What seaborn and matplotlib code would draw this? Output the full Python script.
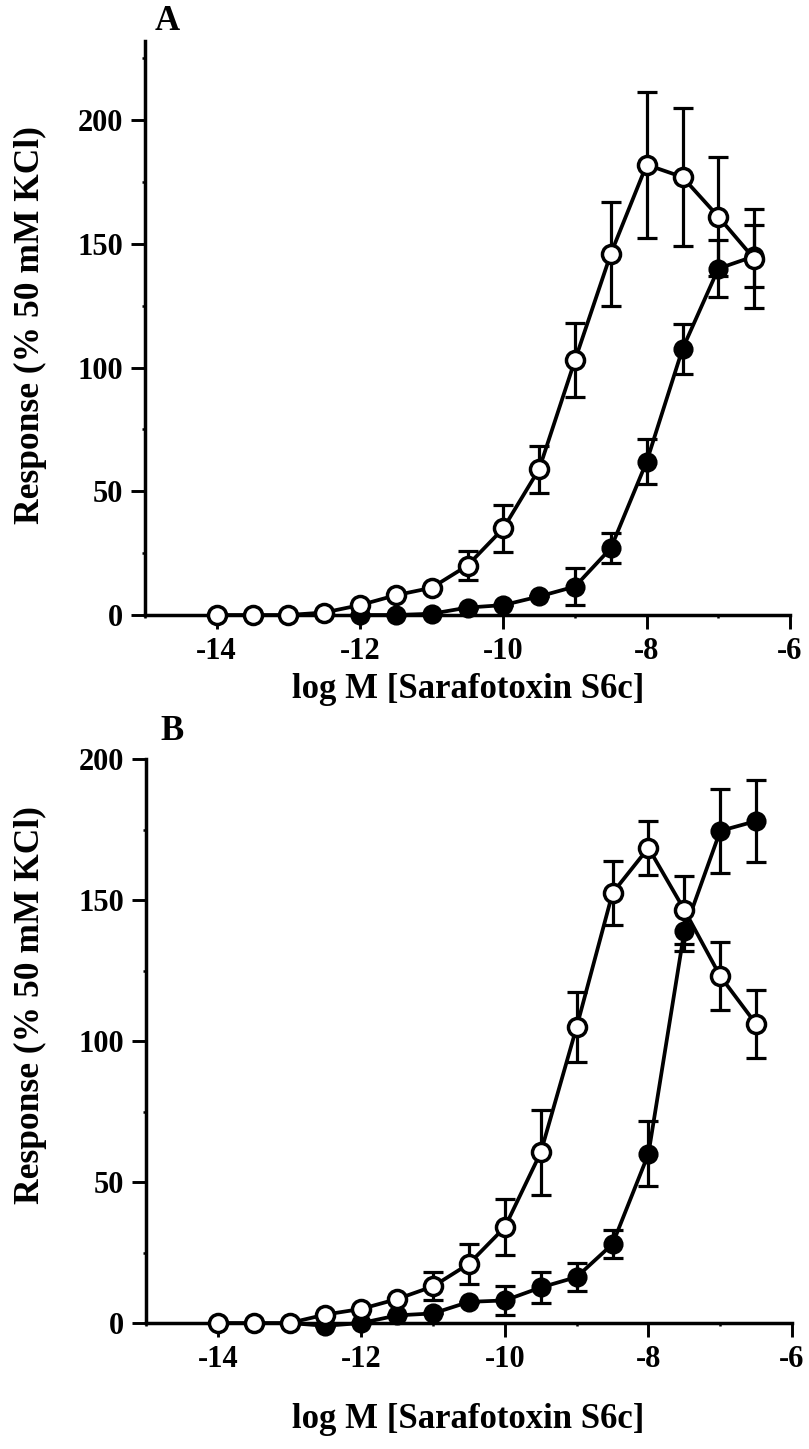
import matplotlib
matplotlib.use("Agg")
import matplotlib.pyplot as plt
import seaborn as sns
import numpy as np
import pandas as pd
from matplotlib.ticker import MultipleLocator, FixedLocator

# ---------------- data ----------------
log_conc = [-14, -13.5, -13, -12.5, -12, -11.5, -11, -10.5, -10,
            -9.5, -9, -8.5, -8, -7.5, -7, -6.5]

# Panel A
a_open = [0, 0, 0, 1, 4, 8, 11, 20, 35, 59, 103, 146, 182, 177, 161, 144]
a_open_err = [0, 0, 0, 0, 0, 0, 0, 6, 9.5, 9.5, 15, 21, 29.5, 28, 24, 20]
a_filled_conc = [-12, -11.5, -11, -10.5, -10, -9.5, -9, -8.5, -8, -7.5, -7, -6.5]
a_filled = [0, 0, 0.5, 3, 4, 7.5, 11.5, 27, 62, 107.5, 140, 145]
a_filled_err = [0, 0, 0, 0, 0, 0, 7.5, 6, 9, 10, 11.5, 12.5]

# Panel B
b_open = [0, 0, 0, 3, 5, 8.5, 13, 21, 34, 60.5, 105, 152.5, 168.5, 146.5, 123, 106]
b_open_err = [0, 0, 0, 0, 0, 0, 5, 7, 10, 15, 12.5, 11.5, 9.5, 12, 12, 12]
b_filled_conc = [-13, -12.5, -12, -11.5, -11, -10.5, -10, -9.5, -9, -8.5, -8, -7.5, -7, -6.5]
b_filled = [0, -1, 0, 2.7, 3.4, 7.5, 8, 12.6, 16.3, 28, 60, 139, 174.5, 178]
b_filled_err = [0, 0, 0, 0, 0, 0, 5, 5.5, 5, 5, 11.5, 7, 15, 14.5]

x_ticks = [-14, -12, -10, -8, -6]
x_ticklabels = ["-14", "-12", "-10", "-8", "-6"]
y_ticks = [0, 50, 100, 150, 200]
y_ticklabels = ["0", "50", "100", "150", "200"]

x_label = "log M [Sarafotoxin S6c]"
y_label = "Response (% 50 mM KCl)"
panel_letters = ["A", "B"]

# ---------------- style ----------------
sns.set_style("ticks")
plt.rcParams["font.family"] = ["Liberation Serif", "DejaVu Serif"]
plt.rcParams["font.weight"] = "bold"
plt.rcParams["axes.unicode_minus"] = False
plt.rcParams["text.color"] = "black"
plt.rcParams["axes.labelcolor"] = "black"
plt.rcParams["xtick.color"] = "black"
plt.rcParams["ytick.color"] = "black"

W, H = 809, 1449
fig = plt.figure(figsize=(W / 100, H / 100), dpi=100)
fig.patch.set_facecolor("white")


def px_axes(left, top, right, bottom):
    return fig.add_axes([left / W, 1 - bottom / H, (right - left) / W, (bottom - top) / H])


ax_a = px_axes(145, 41, 790, 615)
ax_b = px_axes(146, 759, 792, 1323)

panels = [
    (ax_a, a_open, a_open_err, a_filled_conc, a_filled, a_filled_err, 232),
    (ax_b, b_open, b_open_err, b_filled_conc, b_filled, b_filled_err, 200),
]

LW = 2.7
MS = 13
ELW = 2.3
for i, (ax, op, ope, fc, fl, fle, ymax) in enumerate(panels):
    ax.set_facecolor("white")
    # error bars
    ax.errorbar(fc, fl, yerr=fle, fmt="none", ecolor="black", elinewidth=ELW,
                capsize=7.5, capthick=ELW, clip_on=False, zorder=2)
    ax.errorbar(log_conc, op, yerr=ope, fmt="none", ecolor="black", elinewidth=ELW,
                capsize=7.5, capthick=ELW, clip_on=False, zorder=2)
    df_f = pd.DataFrame({"x": fc, "y": fl})
    df_o = pd.DataFrame({"x": log_conc, "y": op})
    sns.lineplot(data=df_f, x="x", y="y", ax=ax, estimator=None, sort=False,
                 color="black", linewidth=LW, marker="o", markersize=MS,
                 markerfacecolor="black", markeredgecolor="black",
                 markeredgewidth=1.5, clip_on=False, zorder=3)
    sns.lineplot(data=df_o, x="x", y="y", ax=ax, estimator=None, sort=False,
                 color="black", linewidth=LW, marker="o", markersize=MS,
                 markerfacecolor="white", markeredgecolor="black",
                 markeredgewidth=2.5, clip_on=False, zorder=4)

    ax.set_xlim(-15, -6)
    ax.set_ylim(0, ymax)
    ax.xaxis.set_major_locator(FixedLocator(x_ticks))
    ax.set_xticklabels(x_ticklabels)
    ax.yaxis.set_major_locator(FixedLocator(y_ticks))
    ax.set_yticklabels(y_ticklabels)
    ax.xaxis.set_minor_locator(MultipleLocator(1))
    ax.yaxis.set_minor_locator(MultipleLocator(25))
    ax.tick_params(which="major", direction="out", length=10, width=2.1,
                   labelsize=22, pad=6, color="black", labelcolor="black")
    ax.tick_params(which="minor", direction="out", length=2.5, width=1.8,
                   color="black")
    for lab in ax.get_xticklabels() + ax.get_yticklabels():
        lab.set_fontweight("bold")
    for s in ["top", "right"]:
        ax.spines[s].set_visible(False)
    for s in ["left", "bottom"]:
        ax.spines[s].set_linewidth(2.5)
        ax.spines[s].set_color("black")
    ax.grid(False)

    ax.set_xlabel(x_label, fontsize=25, fontweight="bold", color="black")
    ax.set_ylabel(y_label, fontsize=25.5, fontweight="bold", color="black")

# label placement (pixel positions converted to axes coords)
def set_label_px(ax, left, top, right, bottom, xl_px, yl_px):
    w = right - left
    h = bottom - top
    ax.xaxis.set_label_coords((xl_px[0] - left) / w, (bottom - xl_px[1]) / h)
    ax.xaxis.label.set_va("center")
    ax.yaxis.set_label_coords((yl_px[0] - left) / w, (bottom - yl_px[1]) / h)
    ax.yaxis.label.set_va("center")

set_label_px(ax_a, 145, 41, 790, 615, (468, 690), (30, 325))
set_label_px(ax_b, 146, 759, 792, 1323, (468, 1420), (30, 1005))

fig.text(167 / W, 1 - 22 / H, panel_letters[0], fontsize=25, fontweight="bold",
         ha="center", va="center", color="black")
fig.text(172 / W, 1 - 732 / H, panel_letters[1], fontsize=25, fontweight="bold",
         ha="center", va="center", color="black")

fig.savefig("out.png", dpi=100, facecolor="white")
